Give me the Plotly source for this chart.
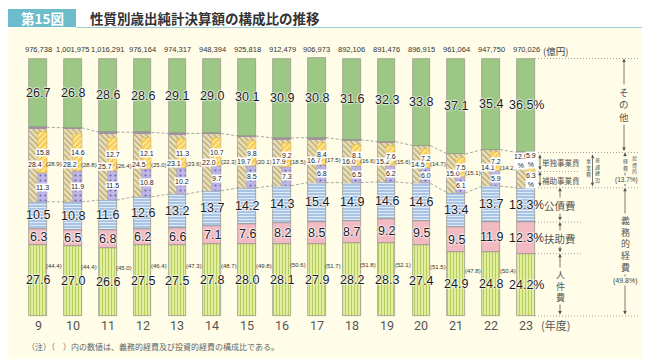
import plotly.graph_objects as go

# ---------------- data ----------------
years = ["9", "10", "11", "12", "13", "14", "15", "16", "17", "18", "19", "20", "21", "22", "23"]
totals = ["976,738", "1,001,975", "1,016,291", "976,164", "974,317", "948,394", "925,818",
          "912,479", "906,973", "892,106", "891,476", "896,915", "961,064", "947,750", "970,026"]
jinken = [27.6, 27.0, 26.6, 27.5, 27.5, 27.8, 28.0, 28.1, 27.9, 28.2, 28.3, 27.4, 24.9, 24.8, 24.2]
fujo = [6.3, 6.5, 6.8, 6.2, 6.6, 7.1, 7.6, 8.2, 8.5, 8.7, 9.2, 9.5, 9.5, 11.9, 12.3]
kosai = [10.5, 10.8, 11.6, 12.6, 13.2, 13.7, 14.2, 14.3, 15.4, 14.9, 14.6, 14.6, 13.4, 13.7, 13.3]
gimu = [44.4, 44.4, 45.0, 46.4, 47.3, 48.7, 49.8, 50.6, 51.7, 51.8, 52.1, 51.5, 47.8, 50.4, 49.8]
toshi = [28.9, 28.8, 26.4, 25.0, 23.6, 22.3, 20.1, 18.5, 17.5, 16.6, 15.6, 14.7, 15.1, 14.2, 13.7]
futsu = [28.4, 28.2, 25.7, 24.5, 23.1, 22.0, 19.7, 17.9, 16.7, 16.0, 15.2, 14.5, 15.0, 14.1, 12.9]
hojo = [11.3, 11.9, 11.5, 10.8, 10.2, 9.7, 8.5, 7.3, 6.8, 6.5, 6.2, 6.0, 6.1, 5.9, 6.3]
tandoku = [15.8, 14.6, 12.7, 12.1, 11.3, 10.7, 9.8, 9.2, 8.4, 8.1, 7.6, 7.2, 7.5, 7.2, 5.9]
sonota = [26.7, 26.8, 28.6, 28.6, 29.1, 29.0, 30.1, 30.9, 30.8, 31.6, 32.3, 33.8, 37.1, 35.4, 36.5]

# ---------------- styling ----------------
BG = "#FFFDE8"
NUM = "Liberation Sans Narrow, Liberation Sans, Arial, sans-serif"
JP = "Noto Sans CJK JP, sans-serif"
HALO = "0 0 2px #fff, 0 0 2px #fff, 0 0 2px #fff, 0 0 1px #fff"
W, H = 650, 359

n = len(years)
x = list(range(n))
b_fujo = [jinken[i] for i in range(n)]
b_kosai = [jinken[i] + fujo[i] for i in range(n)]
b_toshi = [jinken[i] + fujo[i] + kosai[i] for i in range(n)]
b_tand = [b_toshi[i] + hojo[i] for i in range(n)]
b_sono = [b_toshi[i] + toshi[i] for i in range(n)]

BW = 0.51
IW = 0.26
OUT = dict(color="#8e8e84", width=0.7)

fig = go.Figure()
fig.add_bar(x=x, y=jinken, base=[0] * n, width=BW, marker=dict(
    color="#DDE99A", line=OUT,
    pattern=dict(shape="|", bgcolor="#E2EE9E", fgcolor="#B5CF5E", size=3, solidity=0.35, fillmode="replace")))
fig.add_bar(x=x, y=fujo, base=b_fujo, width=BW, marker=dict(color="#F2BBC4", line=OUT))
fig.add_bar(x=x, y=kosai, base=b_kosai, width=BW, marker=dict(
    color="#AFC8E6", line=OUT,
    pattern=dict(shape="-", bgcolor="#A9C3E4", fgcolor="#E4EEF8", size=3, solidity=0.3, fillmode="replace")))
fig.add_bar(x=x, y=toshi, base=b_toshi, width=BW, marker=dict(color="#A88FA9", line=OUT))
fig.add_bar(x=x, y=futsu, base=b_toshi, width=BW, marker=dict(
    color="#E6DBB0", line=dict(width=0),
    pattern=dict(shape="\\", bgcolor="#EAE0B8", fgcolor="#B3A36E", size=4, solidity=0.3, fillmode="replace")))
fig.add_bar(x=x, y=hojo, base=b_toshi, width=IW, offset=-0.005, marker=dict(
    color="#BBB4E4", line=dict(color="#9a94c0", width=0.5),
    pattern=dict(shape=".", bgcolor="#BDB6E6", fgcolor="#6E66A8", size=5, solidity=0.15, fillmode="replace")))
fig.add_bar(x=x, y=tandoku, base=b_tand, width=IW, offset=-0.005, marker=dict(
    color="#F8CD55", line=dict(color="#d9b050", width=0.5),
    pattern=dict(shape="/", bgcolor="#F8CC50", fgcolor="#FFF2C0", size=4, solidity=0.3, fillmode="replace")))
fig.add_bar(x=x, y=sonota, base=b_sono, width=BW, marker=dict(color="#9DC784", line=OUT))

ann = []
shapes = []


def text(xv, yv, t, size, color="#222", xref="x", yref="y", bg=None, shadow=None,
         family=NUM, xanchor="center", yanchor="middle", weight="normal"):
    f = dict(size=size, color=color, family=family, weight=weight)
    if shadow:
        f["shadow"] = shadow
    d = dict(x=xv, y=yv, text=t, xref=xref, yref=yref, showarrow=False, font=f,
             xanchor=xanchor, yanchor=yanchor)
    if bg:
        d.update(bgcolor=bg, borderpad=0)
    ann.append(d)


def px(v):
    return v / W


def py(v):
    return 1 - v / H


# bar connectors (dashed)
for i in range(n - 1):
    for lv in (b_sono, b_toshi):
        shapes.append(dict(type="line", xref="x", yref="y", x0=i + BW / 2, x1=i + 1 - BW / 2,
                           y0=lv[i], y1=lv[i + 1], line=dict(color="#8f8f8f", width=0.8, dash="3px,2px")))

# labels on bars
for i in range(n):
    last = i == n - 1
    pct = "%" if last else ""
    text(i, jinken[i] / 2, f"{jinken[i]:.1f}{pct}", 12.5, color="#1a1a1a", shadow=HALO)
    text(i, b_fujo[i] + fujo[i] / 2, f"{fujo[i]:.1f}{pct}", 12.5, color="#1a1a1a", shadow=HALO)
    text(i, b_kosai[i] + kosai[i] / 2, f"{kosai[i]:.1f}{pct}", 12.5, color="#1a1a1a", shadow=HALO)
    text(i, b_sono[i] + sonota[i] / 2, f"{sonota[i]:.1f}{pct}", 12.5, color="#1a1a1a", shadow=HALO)
    pp = "<br>%" if last else ""
    mid_t = b_toshi[i] + toshi[i] / 2
    fy = (b_sono[i] - 3.3) if last else mid_t
    fx = (i - 0.15) if last else (i - 0.09)
    ty = (b_tand[i] + tandoku[i] / 2 + 1.5) if last else (b_tand[i] + tandoku[i] / 2)
    text(fx, fy, f"{futsu[i]:.1f}{pp}", 7, bg="#FFFFFF")
    text(i + 0.14, b_toshi[i] + hojo[i] / 2, f"{hojo[i]:.1f}{pp}", 7, bg="#FFFFFF")
    text(i + 0.14, ty, f"{tandoku[i]:.1f}{pp}", 7, bg="#FFFFFF")
    if not last:
        text(i + 0.47, mid_t, f"({toshi[i]:.1f})", 6, color="#333")
        text(i + 0.47, jinken[i] * 0.7, f"({gimu[i]:.1f})", 6, color="#333")
    # totals
    text(i, 100, totals[i], 7.5, color="#333", yanchor="bottom")
    ann[-1]["yshift"] = 3
    # years
    text(i, py(317), years[i], 12.5, color="#555", yref="paper", family="Roboto, sans-serif")

text(px(547), py(43), "(億円)", 9.5, color="#444", xref="paper", yref="paper", family=JP)
text(px(547), py(317), "(年度)", 11, color="#555", xref="paper", yref="paper", family=JP)
text(px(17), py(338), "（注）（　）内の数値は、義務的経費及び投資的経費の構成比である。", 8, color="#666",
     xref="paper", yref="paper", family=JP, xanchor="left")

# ---------------- right-side legend ----------------
L = n - 1
lv_top = b_sono[L] + sonota[L]
lv_t = b_sono[L]
lv_f = b_toshi[L] + futsu[L]
lv_h = b_tand[L]
lv_g = b_toshi[L]
lv_k = b_kosai[L]
lv_j = jinken[L]

for lv, x1 in ((lv_top, 630), (lv_t, 630), (lv_h, 572), (lv_g, 630), (lv_k, 573), (lv_j, 573), (0, 630)):
    shapes.append(dict(type="line", xref="paper", yref="y", x0=px(527), x1=px(x1), y0=lv, y1=lv,
                       line=dict(color="#8c8c8c", width=0.8, dash="1px,2px")))


def darrow(xp, y0, y1):
    ann.append(dict(x=px(xp), y=y1, xref="paper", yref="y", ax=0, ay=y0, axref="pixel", ayref="y",
                    showarrow=True, arrowhead=2, startarrowhead=2, arrowside="end+start",
                    arrowsize=0.9, arrowwidth=0.8, arrowcolor="#555", text=""))


darrow(616, lv_t, lv_top)
darrow(617, lv_g, lv_t)
darrow(617, 0, lv_g)
darrow(584.5, lv_g, lv_f)
darrow(532, lv_h, lv_f)
darrow(532, lv_g, lv_h)
darrow(552, lv_k, lv_g)
darrow(552, lv_j, lv_k)
darrow(552, 0, lv_j)


def vtext(s, xp, yc, size, color="#555", fam=JP):
    text(px(xp), py(yc), "<br>".join(s), size, color=color, xref="paper", yref="paper", bg=BG, family=fam)


vtext("その他", 616, 97, 9.5)
vtext("経費", 617, 156, 5)
vtext("投資的", 626, 156, 5)
text(px(618), py(172), "(13.7%)", 6.5, color="#444", xref="paper", yref="paper", bg=BG, family=NUM)
vtext("事業費", 580, 159, 5)
vtext("普通建設", 589, 162, 5)
text(px(553), py(155), "単独事業費", 7.5, color="#555", xref="paper", yref="paper", bg=BG, family=JP)
text(px(553), py(172), "補助事業費", 7.5, color="#555", xref="paper", yref="paper", bg=BG, family=JP)
text(px(552), py(197), "公債費", 10.5, color="#555", xref="paper", yref="paper", bg=BG, family=JP)
text(px(552), py(230), "扶助費", 10.5, color="#555", xref="paper", yref="paper", bg=BG, family=JP)
vtext("人件費", 552, 278, 9)
vtext("義務的経費", 617, 236, 9)
text(px(617), py(273), "(49.8%)", 7, color="#444", xref="paper", yref="paper", bg=BG, family=NUM)

# ---------------- header ----------------
shapes.append(dict(type="rect", xref="paper", yref="paper", x0=0, x1=1, y0=py(20), y1=1,
                   fillcolor="#FFFFFF", line=dict(width=0), layer="below"))
shapes.append(dict(type="rect", xref="paper", yref="paper", x0=0, x1=px(68), y0=py(19), y1=py(1),
                   fillcolor="#6DBCCB", line=dict(width=0)))
shapes.append(dict(type="line", xref="paper", yref="paper", x0=px(68), x1=1, y0=py(19.5), y1=py(19.5),
                   line=dict(color="#9CD0DA", width=1.2)))
text(px(34), py(10), "第15図", 13.5, color="#FFFFFF", xref="paper", yref="paper", family=JP, weight="bold")
text(px(80), py(10), "性質別歳出純計決算額の構成比の推移", 13.5, color="#333", xref="paper", yref="paper",
     family=JP, xanchor="left", weight="bold")

x0r = -30 / 34.86
fig.update_layout(
    width=W, height=H, margin=dict(l=0, r=0, t=0, b=0),
    paper_bgcolor=BG, plot_bgcolor=BG,
    barmode="overlay", bargap=0, showlegend=False,
    xaxis=dict(range=[x0r, x0r + W / 34.86], visible=False, fixedrange=True),
    yaxis=dict(range=[-51 / 2.575, 308 / 2.575], visible=False, fixedrange=True),
    annotations=ann, shapes=shapes,
)
fig.write_html("out.html")
